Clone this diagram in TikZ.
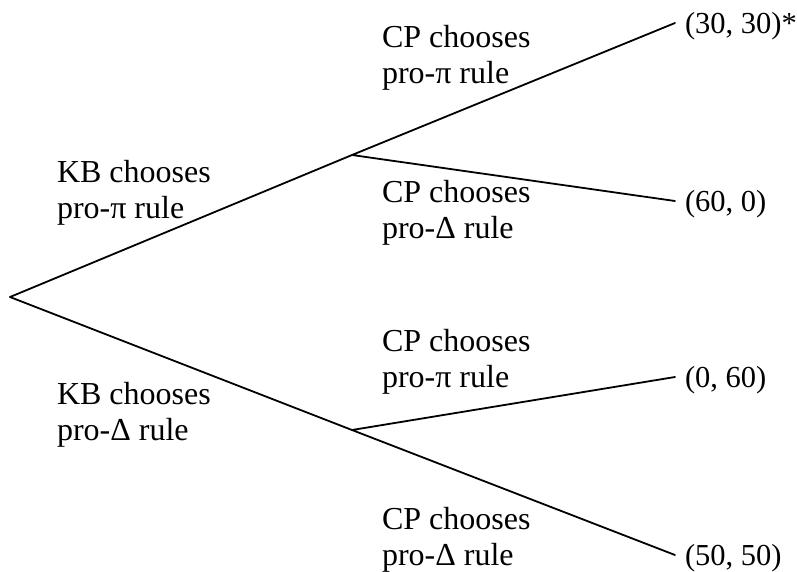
\documentclass[tikz,border=0pt]{standalone}
\usepackage{fontspec}
\setmainfont{Liberation Serif}
\begin{document}
\begin{tikzpicture}[font=\fontsize{30.5}{35.5}\selectfont, line join=round, line cap=round, line width=1.8pt, x=1pt, y=-1pt,
  choice/.style={anchor=base west, align=left, inner sep=0pt, outer sep=0pt, font=\fontsize{32}{35.5}\selectfont},
  payoff/.style={anchor=west, inner xsep=10pt, inner ysep=0pt, outer sep=0pt, text depth=0pt}]
\useasboundingbox (0,0) rectangle (797,571);
\coordinate (kb) at (10,297);
\coordinate (cpa) at (352,155);
\coordinate (cpb) at (352,430);
\foreach \n/\y/\t in {a/23/{(30, 30)*}, b/201/{(60, 0)}, c/377/{(0, 60)}, d/555/{(50, 50)}}{\node[payoff] (\n) at (675,\y) {\t};}
\draw (kb) -- (cpa) -- (a.west) (cpa) -- (b.west);
\draw (kb) -- (cpb) -- (d.west) (cpb) -- (c.west);
% labels on the branches (base = last line)
\node[choice] (kba) at (57,218) {KB chooses\\pro-π rule};
\node[choice] (kbb) at (57,440) {KB chooses\\pro-Δ rule};
\node[choice] (cpaa) at (382,83) {CP chooses\\pro-π rule};
\node[choice] (cpab) at (382,238) {CP chooses\\pro-Δ rule};
\node[choice] (cpba) at (382,387) {CP chooses\\pro-π rule};
\node[choice] (cpbb) at (382,565) {CP chooses\\pro-Δ rule};
\end{tikzpicture}
\end{document}
